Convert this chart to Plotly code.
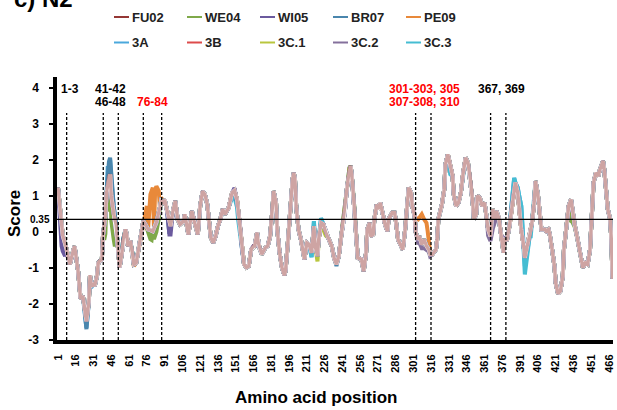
import plotly.graph_objects as go

# ---------------- data ----------------
positions = [1, 3, 5, 8, 11, 14, 15, 18, 20, 22, 23, 25, 27, 28, 29, 31, 32, 34, 35, 36, 38, 39, 41, 42, 44, 45, 46, 48,
             50, 51, 53, 55, 56, 58, 59, 60, 62, 64, 65, 67, 69, 71, 73, 75, 77, 79, 81, 82, 84, 87, 88, 90, 91, 93, 96,
             98, 100, 102, 104, 107, 108, 111, 114, 116, 118, 119, 121, 123, 125, 127, 128, 130, 132, 134, 136, 138,
             140, 142, 145, 148, 150, 152, 153, 155, 156, 158, 160, 162, 164, 166, 167, 169, 170, 171, 173, 176, 178,
             180, 182, 183, 185, 186, 188, 190, 192, 193, 195, 197, 199, 200, 201, 202, 204, 206, 208, 209, 211, 213,
             215, 217, 218, 220, 221, 223, 225, 227, 229, 232, 234, 236, 238, 240, 243, 245, 247, 248, 249, 251, 253,
             254, 257, 258, 259, 261, 262, 264, 265, 267, 268, 270, 271, 273, 275, 277, 279, 280, 283, 285, 286, 288,
             290, 292, 294, 296, 297, 299, 300, 302, 303, 305, 306, 308, 310, 312, 314, 315, 317, 320, 321, 322, 325,
             327, 328, 330, 331, 332, 334, 335, 337, 339, 341, 343, 345, 347, 349, 351, 352, 354, 355, 357, 359, 361,
             363, 364, 366, 367, 368, 370, 371, 373, 374, 375, 377, 378, 380, 382, 384, 386, 387, 389, 390, 392, 394,
             395, 397, 399, 401, 403, 404, 406, 408, 409, 412, 413, 415, 416, 418, 420, 421, 423, 425, 427, 428, 430,
             432, 434, 435, 437, 439, 441, 443, 444, 446, 448, 450, 452, 453, 455, 457, 458, 460, 461, 462, 464, 465,
             467, 468, 469]

base_score = [1.23, 0.45, -0.1, -0.45, -0.9, -0.5, -0.4, -1.1, -1.85, -1.78, -2.0, -2.48, -1.95, -1.2, -1.5, -1.45,
              -1.5, -1.2, -0.86, -0.81, -0.76, -0.1, 0.44, 1.09, 1.55, 1.6, 1.0, 0.5,
              0.21, -0.21, -0.99, -0.58, -0.21, 0.07, -0.07, -0.39, -0.25, -0.62, -0.9, -0.86, -0.49, -0.12, 0.3, 0.2,
              0.07, 0.05, 0.02, 0.1, 0.26, 0.68, 0.86, 0.81, 0.9, 0.6, 0.16,
              0.58, 0.86, 0.35, 0.21, 0.3, 0.49, -0.07, 0.58, 0.3, 0.1, -0.07, 0.72, 1.13, 1.04, 0.76, 0.44, -0.16,
              -0.3, -0.12, 0.16, 0.35,
              0.63, 0.49, 0.67, 1.09, 1.15, 0.9, 0.63, 0.07, -0.39, -0.9, -0.99, -0.95, -0.49, -0.39, -0.39, -0.02,
              -0.3, -0.44, -0.62, -0.44, -0.39,
              -0.12, 0.63, 1.13, 0.81, 0.07, -0.58, -0.99, -1.2, -1.09, -0.3, 0.72, 1.46, 1.64, 1.46, 0.72, 0.07,
              -0.21, -0.58, -0.76, -0.3, -0.35,
              -0.58, 0.16, -0.39, -0.67, -0.21, 0.25, 0.21, -0.02, -0.16, -0.39, -0.72, -0.9, -0.67, -0.12, 0.53, 1.27,
              1.78, 1.83, 1.55, 0.72, -0.12,
              -0.72, -0.76, -0.95, -1.09, -0.58, 0.07, 0.25, -0.12, -0.07, 0.35, 0.76, 0.63, 0.81, 0.49, 0.21, 0.02,
              0.35, 0.53, 0.53, 0.35, -0.21,
              -0.35, -0.49, 0.07, 0.72, 1.23, 1.09, 0.72, 0.44, -0.02, -0.21, -0.12, -0.35, -0.21, -0.39, -0.49, -0.62,
              -0.62, -0.49, -0.21, 0.35, 0.76,
              1.18, 1.88, 2.15, 2.01, 1.83, 1.55, 1.04, 0.72, 0.81, 1.09, 1.64, 2.06, 1.92, 1.46, 0.81, 0.35, 0.49,
              1.0, 0.95, 0.72, 0.81,
              0.35, 0.07, -0.12, 0.35, 0.63, 0.35, 0.58, 0.39, 0.16, -0.12, -0.58, -0.21, -0.21, 0.16, 0.72, 1.18,
              1.37, 1.09, 0.72, 0.07, -0.39,
              -0.72, -0.39, -0.12, 0.25, 0.86, 1.41, 1.04, 0.35, 0.07, 0.07, 0.02, 0.07, -0.07, -0.49, -0.95, -1.41,
              -1.71, -1.64, -1.23, -0.49, 0.16,
              0.72, 0.9, 0.63, 0.21, -0.12, -0.49, -0.86, -0.99, -0.86, -0.9, -0.49, 0.53, 1.37, 1.64, 1.55, 1.69,
              1.88, 1.97, 1.74, 1.09, 0.63,
              0.35, -0.21, -1.3]

# strain-specific scores where a strain departs from the shared profile (position: score)
FU02_dev = {}
WE04_dev = {40: -0.22, 41: -0.05, 43: 0.58, 44: 0.67, 46: 0.3, 48: -0.2, 49: -0.4,
            77: -0.05, 79: -0.2, 80: -0.22, 82: -0.2, 84: 0.0, 86: 0.35,
            434: 0.3, 435: 0.28, 437: 0.15, 438: 0.02}
WI05_dev = {3: 0.1, 4: -0.39, 5: -0.53, 7: -0.67, 9: -0.67, 95: -0.07, 96: -0.07, 150: 1.22}
BR07_dev = {25: -2.7, 43: 1.83, 44: 1.95, 45: 2.06, 46: 1.55, 47: 1.0, 48: 0.72, 95: -0.05, 236: -0.95}
PE09_dev = {64: -0.85, 65: -0.95, 73: 0.3, 75: 0.6, 76: 0.72, 79: 1.04, 81: 1.23, 83: 1.15, 84: 1.27,
            86: 1.14, 88: 0.95, 90: 0.85,
            302: 0.44, 303: 0.39, 305: 0.35, 306: 0.4, 308: 0.49, 310: 0.35, 312: 0.25, 313: 0.02,
            314: -0.3, 315: -0.55}
A3_dev = {24: -2.4, 25: -2.66, 26: -2.3, 29: -1.55, 43: 1.83, 45: 2.0, 46: 1.5, 47: 1.0, 48: 0.72,
          215: -0.7, 217: 0.3, 223: 0.38,
          386: 1.5, 388: 1.27, 389: 1.23, 390: 1.04, 392: 0.72, 393: 0.16, 394: -0.4, 395: -0.95,
          397: -0.55, 399: -0.2}
B3_dev = {}
C31_dev = {220: -0.82, 225: 0.06, 227: -0.1}
C32_dev = {305: -0.3, 306: -0.3, 308: -0.45, 310: -0.45, 312: -0.5, 314: -0.55, 315: -0.67,
           364: -0.1, 366: -0.25, 367: -0.05, 368: 0.1, 370: 0.3, 375: -0.1, 377: -0.16, 378: -0.2}
C33_dev = {148: 0.95, 150: 0.95, 152: 0.7, 153: 0.35, 155: -0.1,
           215: -0.7, 217: 0.3, 223: 0.38, 331: 1.88, 332: 1.6,
           386: 1.5, 388: 1.27, 389: 1.23, 390: 1.04, 392: 0.72, 393: 0.16, 394: -0.58, 395: -1.18,
           397: -0.67, 398: -0.3, 400: -0.12}

strain_names = ["FU02", "WE04", "WI05", "BR07", "PE09", "3A", "3B", "3C.1", "3C.2", "3C.3"]
strain_devs = [FU02_dev, WE04_dev, WI05_dev, BR07_dev, PE09_dev, A3_dev, B3_dev, C31_dev, C32_dev, C33_dev]
strain_colors = ["#953735", "#7fa94a", "#6b5a9e", "#4a86ad", "#e8893a",
                 "#4aa8dc", "#dd4b4b", "#b9c63e", "#84709c", "#45bdd2"]

xtick_vals = list(range(1, 467, 15))
ytick_vals = [-3, -2, -1, 0, 1, 2, 3, 4]
threshold = 0.35
epitope_bounds = [8.3, 39.2, 51.9, 73, 88.5, 302.8, 315.8, 366.1, 379]
epitope_labels = [("1-3", 11.1, 3.96, "black"), ("41-42", 45.6, 3.96, "black"), ("46-48", 45.6, 3.62, "black"),
                  ("76-84", 80.7, 3.62, "red"), ("301-303, 305", 310.7, 3.97, "red"),
                  ("307-308, 310", 310.7, 3.62, "red"), ("367, 369", 375.1, 3.97, "black")]


def build(dev):
    d = dict(zip(positions, base_score))
    d.update(dev)
    xs = sorted(d)
    return xs, [d[k] for k in xs]


FONT = "Liberation Sans, Arial, sans-serif"
fig = go.Figure()

# draw order: FU02 on top (drawn semi-transparent over a white backing)
order = [1, 4, 5, 3, 6, 7, 9, 2, 8]
for i in order:
    xs, ys = build(strain_devs[i])
    fig.add_trace(go.Scatter(x=xs, y=ys, mode="lines", name=strain_names[i],
                             line=dict(color=strain_colors[i], width=4), showlegend=False))
xs, ys = build(FU02_dev)
fig.add_trace(go.Scatter(x=xs, y=ys, mode="lines", line=dict(color="white", width=4),
                         showlegend=False, hoverinfo="skip"))
fig.add_trace(go.Scatter(x=xs, y=ys, mode="lines", name="FU02", opacity=0.45,
                         line=dict(color=strain_colors[0], width=3.4), showlegend=False))

shapes = []
annotations = []
# threshold line
shapes.append(dict(type="line", xref="paper", yref="y", x0=0, x1=1, y0=threshold, y1=threshold,
                   line=dict(color="black", width=1.3), layer="above"))
# epitope boundary lines
for b in epitope_bounds:
    shapes.append(dict(type="line", xref="x", yref="y", x0=b, x1=b, y0=-3, y1=3.3,
                       line=dict(color="black", width=1.3, dash="3px,2px"), layer="above"))
for txt, xp, yv, col in epitope_labels:
    annotations.append(dict(x=xp, y=yv, xref="x", yref="y", text=txt, showarrow=False,
                            font=dict(family=FONT, size=12, color=col, weight="bold")))

# geometry helpers (pixels -> paper)
L, R, T, B, W, H = 57, 4, 77, 70, 617, 410
pw, ph = W - L - R, H - T - B


def px(x):
    return (x - L) / pw


def py(y):
    return (H - B - y) / ph


# manual legend
cols_x = [114, 187, 260, 333, 406]
rows_y = [17, 42.5]
for k, (nm, c) in enumerate(zip(strain_names, strain_colors)):
    r, cidx = divmod(k, 5)
    x0 = cols_x[cidx]
    yy = rows_y[r]
    shapes.append(dict(type="line", xref="paper", yref="paper", x0=px(x0), x1=px(x0 + 15),
                       y0=py(yy), y1=py(yy), line=dict(color=c, width=2)))
    annotations.append(dict(x=px(x0 + 16), y=py(yy), xref="paper", yref="paper", text=nm,
                            showarrow=False, xanchor="left", yanchor="middle",
                            font=dict(family=FONT, size=13, color="#222222", weight="bold")))

# 0.35 label
annotations.append(dict(x=px(52), y=threshold, xref="paper", yref="y", text="0.35", showarrow=False,
                        xanchor="right", yanchor="middle",
                        font=dict(family=FONT, size=10, color="black", weight="bold")))
# axis titles
annotations.append(dict(x=px(316), y=py(398), xref="paper", yref="paper", text="Amino acid position",
                        showarrow=False, xanchor="center", yanchor="middle",
                        font=dict(family=FONT, size=17, color="black", weight="bold")))
annotations.append(dict(x=px(14), y=py(214), xref="paper", yref="paper", text="Score", textangle=-90,
                        showarrow=False, xanchor="center", yanchor="middle",
                        font=dict(family=FONT, size=17, color="black", weight="bold")))
# panel title (its top is cut off by the page edge, as in the original panel crop)
annotations.append(dict(x=px(12), y=py(14), xref="paper", yref="paper", text="c) N2",
                        showarrow=False, xanchor="left", yanchor="bottom",
                        font=dict(family=FONT, size=24, color="black", weight="bold")))

fig.update_layout(
    width=W, height=H, margin=dict(l=L, r=R, t=T, b=B, autoexpand=False),
    paper_bgcolor="white", plot_bgcolor="white",
    showlegend=False, shapes=shapes, annotations=annotations,
    xaxis=dict(range=[0.16, 469.4], tickvals=xtick_vals, ticktext=[str(v) for v in xtick_vals],
               tickangle=-90, showgrid=False, zeroline=False, showline=True, linecolor="black",
               linewidth=4, ticks="", ticklabelstandoff=6, automargin=False,
               tickfont=dict(family=FONT, size=11, color="black", weight="bold")),
    yaxis=dict(range=[-3, 4.3], tickvals=ytick_vals, ticktext=[str(v) for v in ytick_vals],
               showgrid=False, zeroline=False, showline=True, linecolor="black", linewidth=3.5,
               ticks="outside", ticklen=4, tickwidth=1.5, tickcolor="black", ticklabelstandoff=8,
               automargin=False,
               tickfont=dict(family=FONT, size=12, color="black", weight="bold")),
)

fig.write_html("out.html", config={"displayModeBar": False},
               post_script="document.body.style.margin='0';document.body.style.padding='0';"
                           "document.body.style.overflow='hidden';")
